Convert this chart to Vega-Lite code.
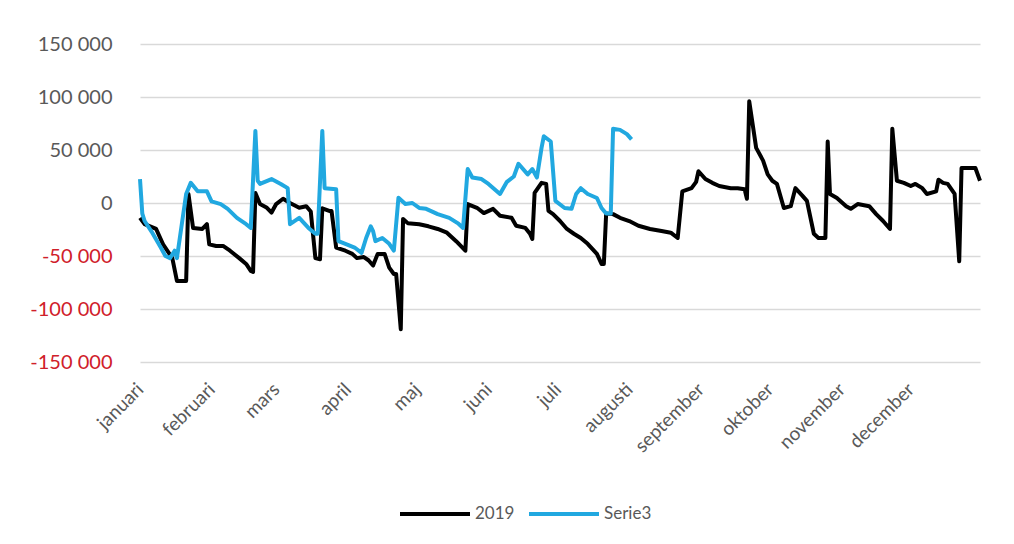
{
  "$schema": "https://vega.github.io/schema/vega-lite/v6.json",
  "autosize": {"type": "none"},
  "width": 840,
  "height": 318,
  "padding": {"left": 140, "top": 44, "right": 34, "bottom": 182},
  "background": "white",
  "config": {
    "view": {"stroke": null},
    "font": "Lato",
    "axis": {"labelFont": "Lato", "labelColor": "#595959"},
    "legend": {"labelFont": "Lato", "labelFontSize": 17, "labelColor": "#595959"}
  },
  "datasets": {
    "d2019": [
      {"date": "2019-01-01", "value": -14000},
      {"date": "2019-01-03", "value": -20000},
      {"date": "2019-01-08", "value": -24500},
      {"date": "2019-01-11", "value": -39000},
      {"date": "2019-01-15", "value": -52000},
      {"date": "2019-01-17", "value": -73500},
      {"date": "2019-01-21", "value": -73500},
      {"date": "2019-01-22", "value": 8500},
      {"date": "2019-01-24", "value": -23500},
      {"date": "2019-01-28", "value": -24500},
      {"date": "2019-01-30", "value": -20000},
      {"date": "2019-01-31", "value": -39000},
      {"date": "2019-02-03", "value": -40500},
      {"date": "2019-02-06", "value": -40500},
      {"date": "2019-02-09", "value": -45000},
      {"date": "2019-02-13", "value": -52000},
      {"date": "2019-02-16", "value": -57500},
      {"date": "2019-02-18", "value": -64000},
      {"date": "2019-02-19", "value": -65000},
      {"date": "2019-02-20", "value": 9500},
      {"date": "2019-02-22", "value": -1000},
      {"date": "2019-02-25", "value": -4500},
      {"date": "2019-02-27", "value": -9000},
      {"date": "2019-03-01", "value": -1000},
      {"date": "2019-03-04", "value": 4000},
      {"date": "2019-03-07", "value": 0},
      {"date": "2019-03-11", "value": -4500},
      {"date": "2019-03-14", "value": -3000},
      {"date": "2019-03-16", "value": -8000},
      {"date": "2019-03-18", "value": -52000},
      {"date": "2019-03-20", "value": -53000},
      {"date": "2019-03-21", "value": -5000},
      {"date": "2019-03-24", "value": -7500},
      {"date": "2019-03-25", "value": -7500},
      {"date": "2019-03-27", "value": -42000},
      {"date": "2019-03-31", "value": -45000},
      {"date": "2019-04-03", "value": -48000},
      {"date": "2019-04-05", "value": -52000},
      {"date": "2019-04-08", "value": -51000},
      {"date": "2019-04-10", "value": -54000},
      {"date": "2019-04-12", "value": -59000},
      {"date": "2019-04-14", "value": -48000},
      {"date": "2019-04-17", "value": -48000},
      {"date": "2019-04-19", "value": -61000},
      {"date": "2019-04-21", "value": -67000},
      {"date": "2019-04-22", "value": -67000},
      {"date": "2019-04-24", "value": -119000},
      {"date": "2019-04-25", "value": -15000},
      {"date": "2019-04-27", "value": -19000},
      {"date": "2019-05-02", "value": -20000},
      {"date": "2019-05-06", "value": -22000},
      {"date": "2019-05-10", "value": -24500},
      {"date": "2019-05-14", "value": -28000},
      {"date": "2019-05-18", "value": -36000},
      {"date": "2019-05-20", "value": -40500},
      {"date": "2019-05-22", "value": -45000},
      {"date": "2019-05-23", "value": -1000},
      {"date": "2019-05-27", "value": -4500},
      {"date": "2019-05-30", "value": -9500},
      {"date": "2019-06-03", "value": -5500},
      {"date": "2019-06-06", "value": -12000},
      {"date": "2019-06-11", "value": -14000},
      {"date": "2019-06-13", "value": -21500},
      {"date": "2019-06-17", "value": -23500},
      {"date": "2019-06-19", "value": -29000},
      {"date": "2019-06-20", "value": -34000},
      {"date": "2019-06-21", "value": 9500},
      {"date": "2019-06-24", "value": 19000},
      {"date": "2019-06-26", "value": 18000},
      {"date": "2019-06-27", "value": -7500},
      {"date": "2019-06-29", "value": -10500},
      {"date": "2019-07-02", "value": -17000},
      {"date": "2019-07-05", "value": -24500},
      {"date": "2019-07-08", "value": -29000},
      {"date": "2019-07-11", "value": -33000},
      {"date": "2019-07-14", "value": -38500},
      {"date": "2019-07-18", "value": -48000},
      {"date": "2019-07-20", "value": -57500},
      {"date": "2019-07-21", "value": -57500},
      {"date": "2019-07-22", "value": -10000},
      {"date": "2019-07-25", "value": -10500},
      {"date": "2019-07-28", "value": -14000},
      {"date": "2019-08-01", "value": -17000},
      {"date": "2019-08-05", "value": -21500},
      {"date": "2019-08-10", "value": -24500},
      {"date": "2019-08-15", "value": -26500},
      {"date": "2019-08-19", "value": -28000},
      {"date": "2019-08-22", "value": -33000},
      {"date": "2019-08-24", "value": 11000},
      {"date": "2019-08-28", "value": 14000},
      {"date": "2019-08-30", "value": 20000},
      {"date": "2019-08-31", "value": 30000},
      {"date": "2019-09-03", "value": 22600},
      {"date": "2019-09-06", "value": 19000},
      {"date": "2019-09-09", "value": 16000},
      {"date": "2019-09-14", "value": 14000},
      {"date": "2019-09-17", "value": 14000},
      {"date": "2019-09-20", "value": 13000},
      {"date": "2019-09-21", "value": 4000},
      {"date": "2019-09-22", "value": 96000},
      {"date": "2019-09-25", "value": 52000},
      {"date": "2019-09-28", "value": 40000},
      {"date": "2019-09-30", "value": 27000},
      {"date": "2019-10-02", "value": 21000},
      {"date": "2019-10-04", "value": 18000},
      {"date": "2019-10-07", "value": -4700},
      {"date": "2019-10-10", "value": -3000},
      {"date": "2019-10-12", "value": 14000},
      {"date": "2019-10-15", "value": 7000},
      {"date": "2019-10-17", "value": 2000},
      {"date": "2019-10-20", "value": -29000},
      {"date": "2019-10-22", "value": -33000},
      {"date": "2019-10-25", "value": -33000},
      {"date": "2019-10-26", "value": 58000},
      {"date": "2019-10-27", "value": 8500},
      {"date": "2019-10-30", "value": 4700},
      {"date": "2019-11-03", "value": -3000},
      {"date": "2019-11-05", "value": -5500},
      {"date": "2019-11-08", "value": -1000},
      {"date": "2019-11-13", "value": -3000},
      {"date": "2019-11-16", "value": -10500},
      {"date": "2019-11-19", "value": -17000},
      {"date": "2019-11-22", "value": -24500},
      {"date": "2019-11-23", "value": 70000},
      {"date": "2019-11-25", "value": 21000},
      {"date": "2019-11-28", "value": 19000},
      {"date": "2019-12-01", "value": 16000},
      {"date": "2019-12-03", "value": 18000},
      {"date": "2019-12-06", "value": 14000},
      {"date": "2019-12-08", "value": 8500},
      {"date": "2019-12-12", "value": 11000},
      {"date": "2019-12-13", "value": 22000},
      {"date": "2019-12-15", "value": 19000},
      {"date": "2019-12-17", "value": 18000},
      {"date": "2019-12-20", "value": 8500},
      {"date": "2019-12-22", "value": -55000},
      {"date": "2019-12-23", "value": 33000},
      {"date": "2019-12-29", "value": 33000},
      {"date": "2019-12-31", "value": 21000}
    ],
    "dSerie3": [
      {"date": "2019-01-01", "value": 22600},
      {"date": "2019-01-02", "value": -10000},
      {"date": "2019-01-03", "value": -17000},
      {"date": "2019-01-06", "value": -27000},
      {"date": "2019-01-10", "value": -42000},
      {"date": "2019-01-12", "value": -50000},
      {"date": "2019-01-14", "value": -52000},
      {"date": "2019-01-16", "value": -45000},
      {"date": "2019-01-17", "value": -52000},
      {"date": "2019-01-21", "value": 8500},
      {"date": "2019-01-23", "value": 19000},
      {"date": "2019-01-26", "value": 11000},
      {"date": "2019-01-30", "value": 11000},
      {"date": "2019-02-01", "value": 1500},
      {"date": "2019-02-05", "value": -1000},
      {"date": "2019-02-08", "value": -5500},
      {"date": "2019-02-12", "value": -14000},
      {"date": "2019-02-16", "value": -20000},
      {"date": "2019-02-18", "value": -23500},
      {"date": "2019-02-20", "value": 68000},
      {"date": "2019-02-21", "value": 21000},
      {"date": "2019-02-22", "value": 18000},
      {"date": "2019-02-27", "value": 22600},
      {"date": "2019-03-03", "value": 18000},
      {"date": "2019-03-06", "value": 14000},
      {"date": "2019-03-07", "value": -20000},
      {"date": "2019-03-11", "value": -14000},
      {"date": "2019-03-15", "value": -23500},
      {"date": "2019-03-18", "value": -29000},
      {"date": "2019-03-19", "value": -29000},
      {"date": "2019-03-21", "value": 68000},
      {"date": "2019-03-22", "value": 14000},
      {"date": "2019-03-27", "value": 13000},
      {"date": "2019-03-28", "value": -36000},
      {"date": "2019-03-31", "value": -38500},
      {"date": "2019-04-04", "value": -42000},
      {"date": "2019-04-07", "value": -47000},
      {"date": "2019-04-09", "value": -33000},
      {"date": "2019-04-11", "value": -22000},
      {"date": "2019-04-12", "value": -26500},
      {"date": "2019-04-13", "value": -36000},
      {"date": "2019-04-16", "value": -33000},
      {"date": "2019-04-19", "value": -38500},
      {"date": "2019-04-21", "value": -45000},
      {"date": "2019-04-23", "value": 5000},
      {"date": "2019-04-26", "value": -1000},
      {"date": "2019-04-29", "value": 0},
      {"date": "2019-05-02", "value": -4700},
      {"date": "2019-05-05", "value": -5500},
      {"date": "2019-05-10", "value": -10500},
      {"date": "2019-05-15", "value": -14000},
      {"date": "2019-05-19", "value": -19500},
      {"date": "2019-05-21", "value": -23500},
      {"date": "2019-05-23", "value": 32000},
      {"date": "2019-05-25", "value": 24000},
      {"date": "2019-05-29", "value": 22600},
      {"date": "2019-06-01", "value": 18000},
      {"date": "2019-06-06", "value": 8500},
      {"date": "2019-06-09", "value": 20000},
      {"date": "2019-06-12", "value": 25000},
      {"date": "2019-06-14", "value": 37000},
      {"date": "2019-06-18", "value": 27000},
      {"date": "2019-06-20", "value": 32000},
      {"date": "2019-06-22", "value": 24000},
      {"date": "2019-06-24", "value": 52000},
      {"date": "2019-06-25", "value": 63000},
      {"date": "2019-06-28", "value": 58000},
      {"date": "2019-06-30", "value": 2000},
      {"date": "2019-07-04", "value": -4700},
      {"date": "2019-07-07", "value": -5500},
      {"date": "2019-07-09", "value": 8500},
      {"date": "2019-07-11", "value": 14000},
      {"date": "2019-07-14", "value": 8500},
      {"date": "2019-07-18", "value": 4700},
      {"date": "2019-07-20", "value": -4700},
      {"date": "2019-07-22", "value": -10000},
      {"date": "2019-07-24", "value": -10000},
      {"date": "2019-07-25", "value": 70000},
      {"date": "2019-07-28", "value": 69000},
      {"date": "2019-07-31", "value": 65000},
      {"date": "2019-08-02", "value": 60000}
    ]
  },
  "layer": [
    {
      "data": {"name": "d2019"},
      "transform": [{"calculate": "'2019'", "as": "series"}],
      "mark": {"type": "line", "strokeWidth": 4, "strokeJoin": "round"},
      "encoding": {
        "x": {"field": "date", "type": "temporal"},
        "y": {"field": "value", "type": "quantitative"},
        "color": {"field": "series", "type": "nominal"}
      }
    },
    {
      "data": {"name": "dSerie3"},
      "transform": [{"calculate": "'Serie3'", "as": "series"}],
      "mark": {"type": "line", "strokeWidth": 4, "strokeJoin": "round"},
      "encoding": {
        "x": {"field": "date", "type": "temporal"},
        "y": {"field": "value", "type": "quantitative"},
        "color": {"field": "series", "type": "nominal"}
      }
    }
  ],
  "encoding": {
    "x": {
      "field": "date",
      "type": "temporal",
      "scale": {
        "type": "utc",
        "domain": [
          {"year": 2019, "month": 1, "date": 1, "utc": true},
          {"year": 2019, "month": 12, "date": 31, "utc": true}
        ]
      },
      "axis": {
        "title": null,
        "grid": false,
        "domain": false,
        "ticks": false,
        "labelFontSize": 19,
        "labelAngle": -45,
        "labelAlign": "right",
        "labelBaseline": "middle",
        "labelPadding": 24,
        "labelOverlap": false,
        "values": [
          {"year": 2019, "month": 1, "date": 1, "utc": true},
          {"year": 2019, "month": 2, "date": 1, "utc": true},
          {"year": 2019, "month": 3, "date": 1, "utc": true},
          {"year": 2019, "month": 4, "date": 1, "utc": true},
          {"year": 2019, "month": 5, "date": 1, "utc": true},
          {"year": 2019, "month": 6, "date": 1, "utc": true},
          {"year": 2019, "month": 7, "date": 1, "utc": true},
          {"year": 2019, "month": 8, "date": 1, "utc": true},
          {"year": 2019, "month": 9, "date": 1, "utc": true},
          {"year": 2019, "month": 10, "date": 1, "utc": true},
          {"year": 2019, "month": 11, "date": 1, "utc": true},
          {"year": 2019, "month": 12, "date": 1, "utc": true}
        ],
        "labelExpr": "['januari','februari','mars','april','maj','juni','juli','augusti','september','oktober','november','december'][utcmonth(datum.value)]"
      }
    },
    "y": {
      "field": "value",
      "type": "quantitative",
      "scale": {"domain": [-150000, 150000], "nice": false, "zero": false},
      "axis": {
        "title": null,
        "values": [-150000, -100000, -50000, 0, 50000, 100000, 150000],
        "grid": true,
        "gridColor": "#d9d9d9",
        "gridWidth": 1.5,
        "domain": false,
        "ticks": false,
        "labelFontSize": 20,
        "labelPadding": 28,
        "labelExpr": "(datum.value < 0 ? '-' : '') + replace(format(abs(datum.value), ','), ',', ' ')",
        "labelColor": {"condition": {"test": "datum.value < 0", "value": "#d0202a"}, "value": "#595959"}
      }
    },
    "color": {
      "field": "series",
      "type": "nominal",
      "scale": {"domain": ["2019", "Serie3"], "range": ["#000000", "#21a8e0"]},
      "legend": {
        "title": null,
        "orient": "none",
        "direction": "horizontal",
        "legendX": 258,
        "legendY": 433,
        "symbolType": "stroke",
        "symbolSize": 4900,
        "symbolStrokeWidth": 4,
        "columnPadding": 6,
        "labelOffset": 3
      }
    }
  }
}
